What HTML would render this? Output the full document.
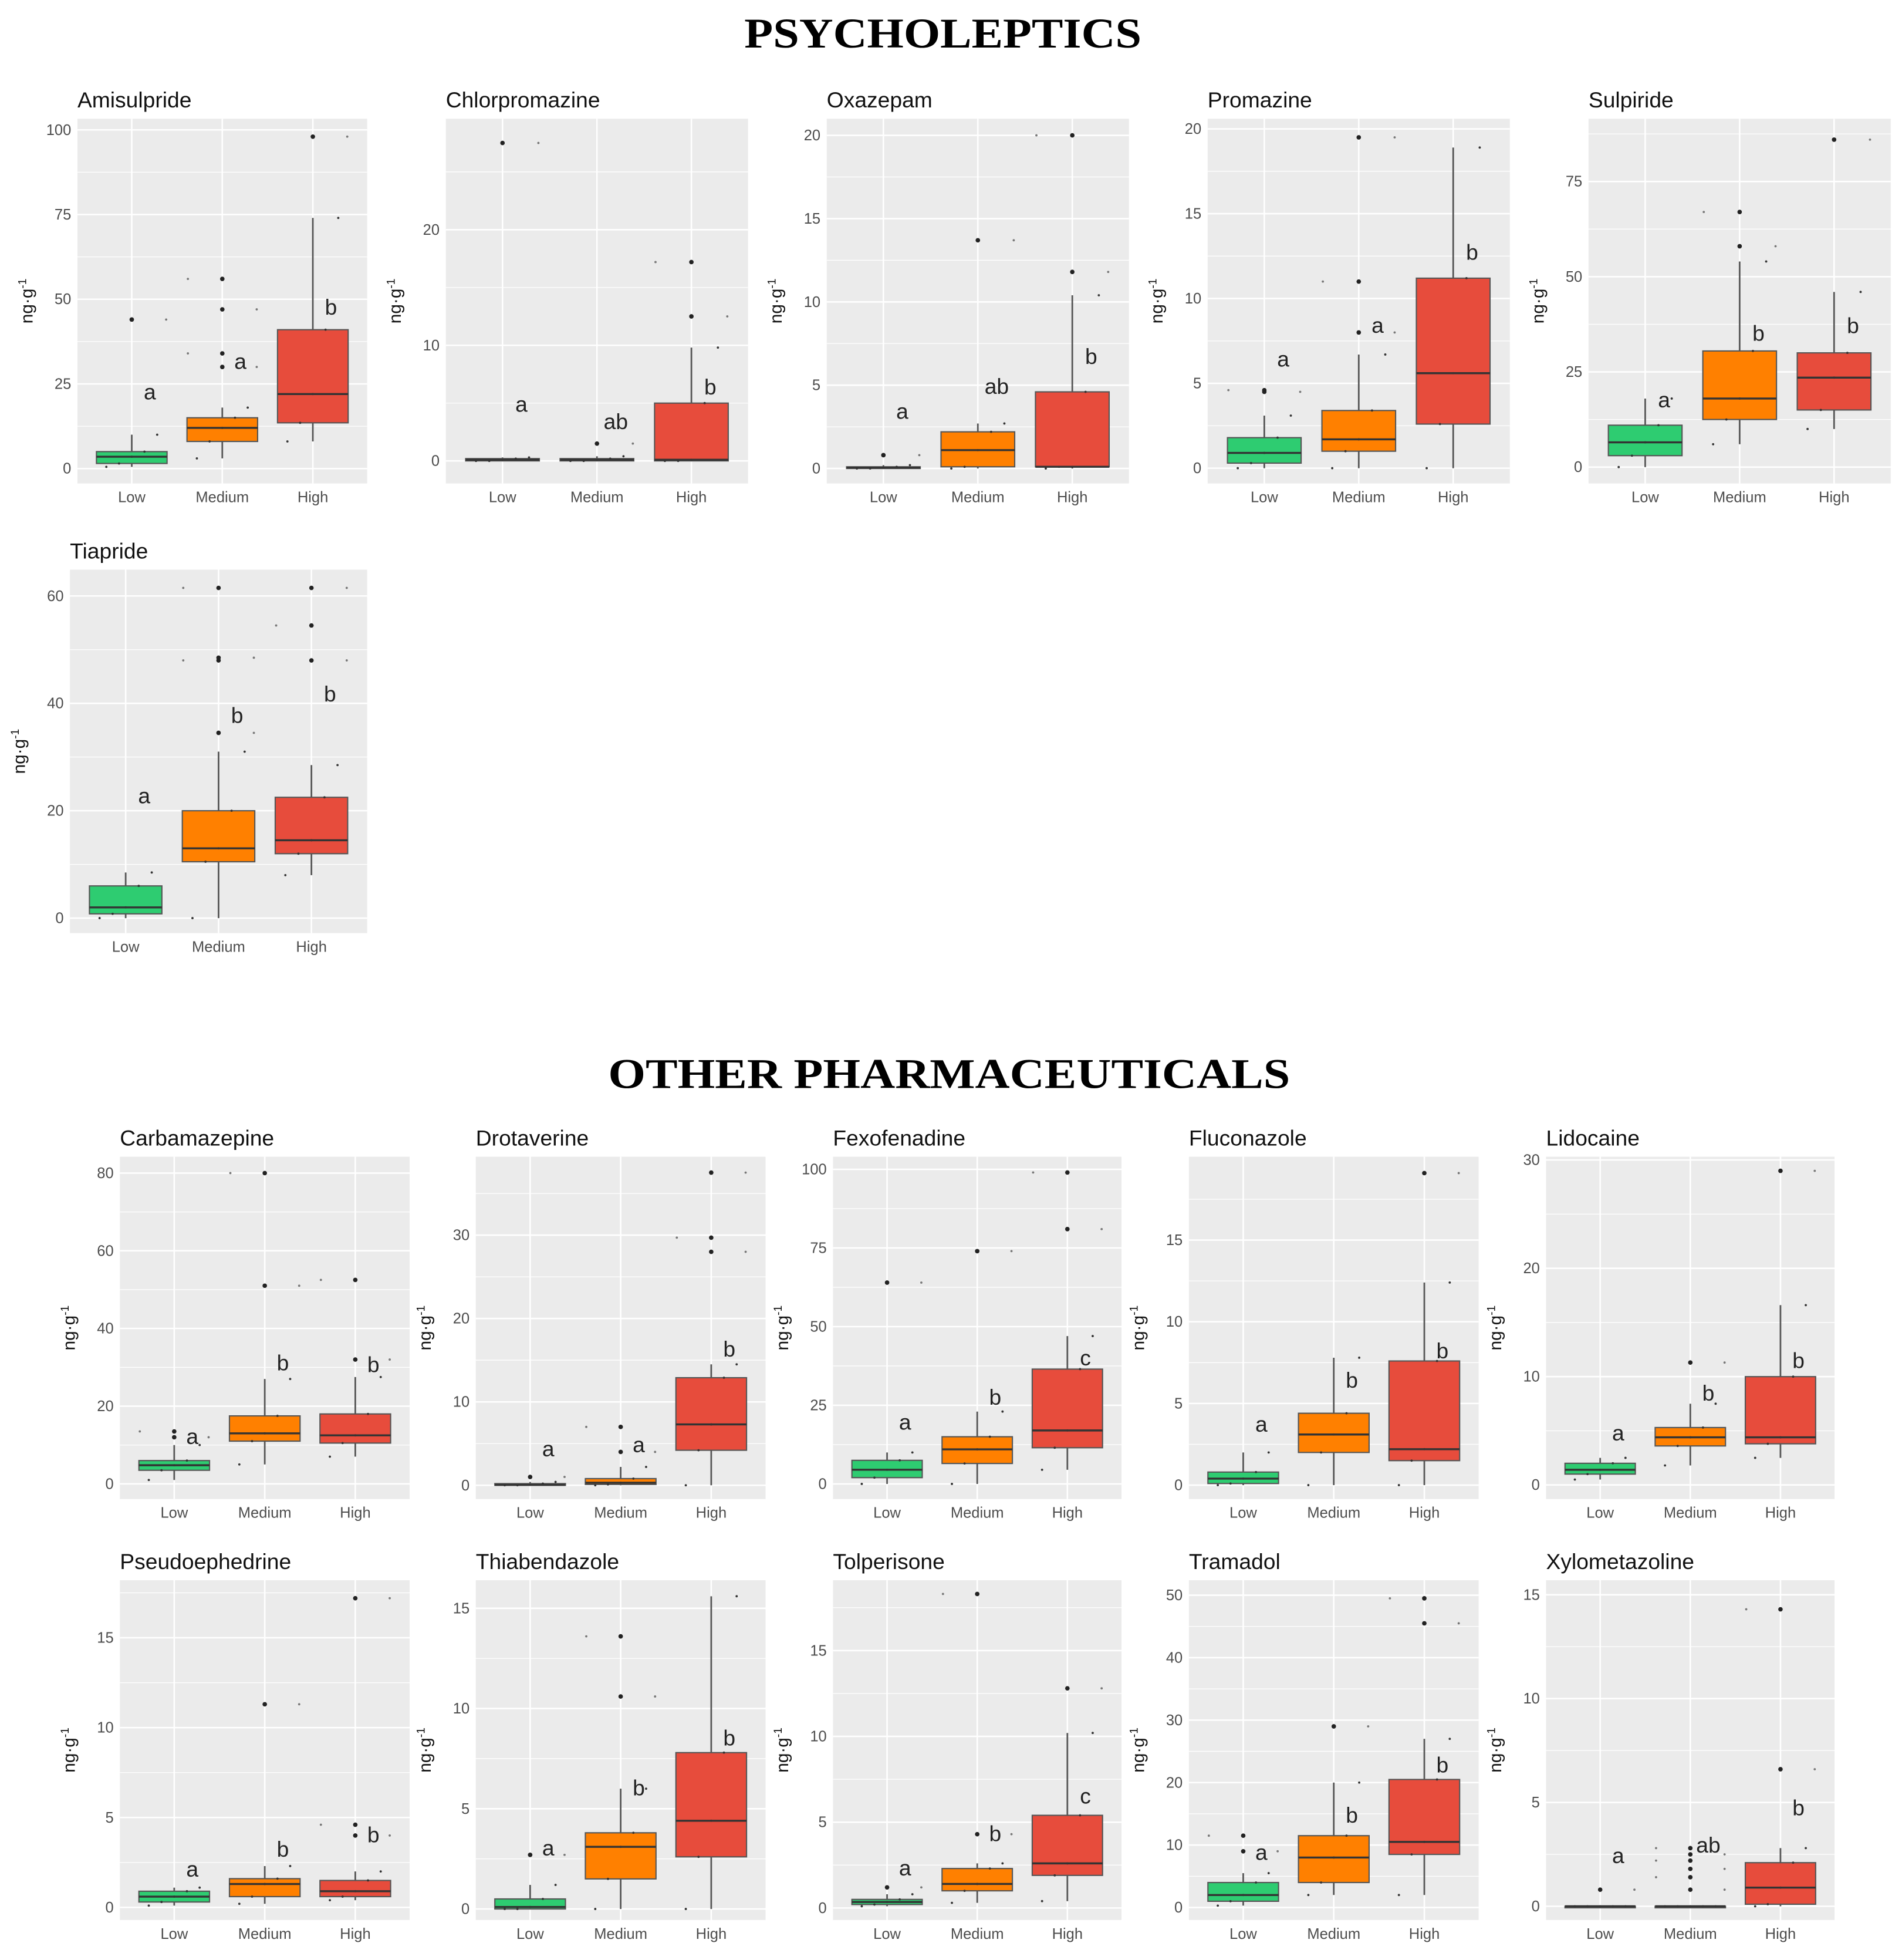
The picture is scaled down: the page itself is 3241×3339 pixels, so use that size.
<!DOCTYPE html>
<html><head><meta charset="utf-8"><style>
html,body{margin:0;padding:0;background:#fff;}
svg{display:block;}
</style></head><body>
<svg id="fig" xmlns="http://www.w3.org/2000/svg" width="3241" height="3339" viewBox="0 0 1523 1569">
<rect x="0" y="0" width="1523" height="1569" fill="#fff"/>
<text x="755" y="38" text-anchor="middle" font-family="Liberation Serif, serif" font-weight="bold" font-size="34" textLength="318" lengthAdjust="spacingAndGlyphs">PSYCHOLEPTICS</text>
<text x="760" y="871" text-anchor="middle" font-family="Liberation Serif, serif" font-weight="bold" font-size="34" textLength="546" lengthAdjust="spacingAndGlyphs">OTHER PHARMACEUTICALS</text>
<g id="panels"></g>
</svg>
<script>
// ---- data ----
const groups = ["Low", "Medium", "High"];
const names = ["Amisulpride","Chlorpromazine","Oxazepam","Promazine","Sulpiride","Tiapride",
  "Carbamazepine","Drotaverine","Fexofenadine","Fluconazole","Lidocaine",
  "Pseudoephedrine","Thiabendazole","Tolperisone","Tramadol","Xylometazoline"];
const yDomains = [[-4.4,103.3],[-1.95,29.6],[-0.9,21],[-0.9,20.6],[-4.3,91.5],[-2.8,64.9],
  [-3.9,84.2],[-1.65,39.4],[-4.8,104],[-0.85,20.1],[-1.3,30.3],
  [-0.7,18.2],[-0.55,16.4],[-0.7,19.1],[-2,52.4],[-0.66,15.7]];
const yTicks = [[0,25,50,75,100],[0,10,20],[0,5,10,15,20],[0,5,10,15,20],[0,25,50,75],[0,20,40,60],
  [0,20,40,60,80],[0,10,20,30],[0,25,50,75,100],[0,5,10,15],[0,10,20,30],
  [0,5,10,15],[0,5,10,15],[0,5,10,15],[0,10,20,30,40,50],[0,5,10,15]];
// box stats per group: [whiskerLow, q1, median, q3, whiskerHigh]
const boxStats = [
  [[0.5,1.5,3.5,5,10],[3,8,12,15,18],[8,13.5,22,41,74]],
  [[0,0,0.1,0.2,0.3],[0,0,0.1,0.2,0.4],[0,0,0.1,5,9.8]],
  [[0,0,0.05,0.1,0.2],[0,0.1,1.1,2.2,2.7],[0,0.1,0.1,4.6,10.4]],
  [[0,0.3,0.9,1.8,3.1],[0,1.0,1.7,3.4,6.7],[0,2.6,5.6,11.2,18.9]],
  [[0,3,6.5,11,18],[6,12.5,18,30.5,54],[10,15,23.5,30,46]],
  [[0,0.8,2,6,8.5],[0,10.5,13,20,31],[8,12,14.5,22.5,28.5]],
  [[1,3.5,4.8,6,10],[5,11,13,17.5,27],[7,10.5,12.5,18,27.5]],
  [[0,0,0.05,0.2,0.4],[0,0.1,0.3,0.8,2.2],[0,4.2,7.3,12.9,14.5]],
  [[0,2,4.5,7.5,10],[0,6.5,11,15,23],[4.5,11.5,17,36.5,47]],
  [[0,0.1,0.4,0.8,2],[0,2,3.1,4.4,7.8],[0,1.5,2.2,7.6,12.4]],
  [[0.5,1,1.4,2,2.5],[1.8,3.6,4.4,5.3,7.5],[2.5,3.8,4.4,10,16.6]],
  [[0.1,0.3,0.6,0.9,1.1],[0.2,0.6,1.3,1.6,2.3],[0.4,0.6,0.9,1.5,2]],
  [[0,0,0.1,0.5,1.2],[0,1.5,3.1,3.8,6],[0,2.6,4.4,7.8,15.6]],
  [[0.1,0.2,0.35,0.5,0.8],[0.3,1.0,1.4,2.3,2.6],[0.4,1.9,2.6,5.4,10.2]],
  [[0.3,1,2,4,5.5],[2,4,8,11.5,20],[2,8.5,10.5,20.5,27]],
  [[0,0,0,0,0],[0,0,0,0,0],[0,0.1,0.9,2.1,2.8]]
];
const outliers = [
  [[44],[30,34,47,56],[98]],
  [[27.5],[1.5],[12.5,17.2]],
  [[0.8],[13.7],[11.8,20]],
  [[4.5,4.6],[8,11,19.5],[]],
  [[],[58,67],[86]],
  [[],[34.5,48,48.5,61.5],[48,54.5,61.5]],
  [[12,13.5],[51,80],[32,52.5]],
  [[1],[4,7],[28,29.7,37.5]],
  [[64],[74],[81,99]],
  [[],[],[19.1]],
  [[],[11.3],[29]],
  [[],[11.3],[4,4.6,17.2]],
  [[2.7],[10.6,13.6],[]],
  [[1.2],[4.3,18.3],[12.8]],
  [[9,11.5],[29],[45.5,49.5]],
  [[0.8],[0.8,1.4,1.8,2.2,2.5,2.8],[6.6,14.3]]
];
const letters = [
  ["a","a","b"],["a","ab","b"],["a","ab","b"],["a","a","b"],["a","b","b"],["a","b","b"],
  ["a","b","b"],["a","a","b"],["a","b","c"],["a","b","b"],["a","b","b"],
  ["a","b","b"],["a","b","b"],["a","b","c"],["a","b","b"],["a","ab","b"]];
const letterValues = [
  [23,32,48],[5,3.5,6.5],[3.5,5,6.8],[6.5,8.5,12.8],[18,35.5,37.5],[23,38,42],
  [12.5,31.5,31],[4.5,5,16.5],[20,28,40.5],[3.8,6.5,8.3],[4.9,8.6,11.6],
  [2.2,3.3,4.1],[3.1,6.1,8.6],[2.4,4.4,6.6],[9,15,23],[2.5,3,4.8]];

// ---- layout (pixels, not data) ----
const layout = [
  [62,95,232,292],[357,95,242,292],[662,95,242,292],[967,95,242,292],[1272,95,242,292],
  [56,456,238,291],
  [96,926,232,274],[381,926,232,274],[667,926,231,274],[952,926,232,274],[1238,926,231,274],
  [96,1265,232,272],[381,1265,232,272],[667,1265,231,272],[952,1265,232,272],[1238,1265,231,272]];
const fills = ["#2ecc71","#ff8000","#e74c3c"];
const NS = "http://www.w3.org/2000/svg";
const root = document.getElementById("panels");
function mk(tag, attrs, parent){ const e=document.createElementNS(NS,tag); for(const k in attrs) e.setAttribute(k,attrs[k]); parent.appendChild(e); return e; }

names.forEach((nm, p) => {
  const [L,T,W,H] = layout[p];
  const [y0,y1] = yDomains[p];
  const sy = v => T + H - (v - y0) / (y1 - y0) * H;
  const sx = g => L + (g + 1 - 0.4) / 3.2 * W;
  const unit = W / 3.2;
  const slug = nm.toLowerCase();
  const g = mk("g", {}, root);
  
  
  const bg = mk("rect", {x:L, y:T, width:W, height:H, fill:"#ebebeb"}, g);
  
  
  const ticks = yTicks[p];
  const step = ticks[1] - ticks[0];
  for (let v = ticks[0] - step/2; v <= y1; v += step) {
    if (v < y0) continue;
    const gl = mk("line", {x1:L, x2:L+W, y1:sy(v), y2:sy(v), stroke:"#fff", "stroke-width":0.6}, g);
    
    
  }
  ticks.forEach(v => {
    const gl = mk("line", {x1:L, x2:L+W, y1:sy(v), y2:sy(v), stroke:"#fff", "stroke-width":1.2}, g);
    
    
    const tl = mk("text", {x:L-5, y:sy(v)+4, "text-anchor":"end", "font-family":"Liberation Sans, sans-serif", "font-size":12, fill:"#4d4d4d"}, g);
    tl.textContent = v;
    
    
  });
  groups.forEach((gr, i) => {
    const gl = mk("line", {x1:sx(i), x2:sx(i), y1:T, y2:T+H, stroke:"#fff", "stroke-width":1.2}, g);
    
    
    const xl = mk("text", {x:sx(i), y:T+H+15, "text-anchor":"middle", "font-family":"Liberation Sans, sans-serif", "font-size":12, fill:"#4d4d4d"}, g);
    xl.textContent = gr;
    
    
    const [wl,q1,md,q3,wh] = boxStats[p][i];
    const cx = sx(i), bw = unit*0.78;
    const wk = mk("line", {x1:cx, x2:cx, y1:sy(wl), y2:sy(wh), stroke:"#555", "stroke-width":1.3}, g);
    
    
    const bx = mk("rect", {x:cx-bw/2, y:sy(q3), width:bw, height:Math.max(1.2, sy(q1)-sy(q3)), fill:fills[i], stroke:"#555", "stroke-width":1}, g);
    
    
    const ml = mk("line", {x1:cx-bw/2, x2:cx+bw/2, y1:sy(md), y2:sy(md), stroke:"#333", "stroke-width":1.6}, g);
    
    
    [wl,q1,md,q3,wh].forEach((v,k) => {
      const jp = mk("circle", {cx:cx + (k-2)*bw*0.18, cy:sy(v), r:0.9, fill:"#333"}, g);
      
      
    });
    outliers[p][i].forEach((v,k) => {
      const op = mk("circle", {cx:cx, cy:sy(v), r:1.8, fill:"#222"}, g);
      
      
      const jp = mk("circle", {cx:cx + ((k%2)?-1:1)*unit*0.38, cy:sy(v), r:0.9, fill:"#777"}, g);
      
      
    });
    const lt = mk("text", {x:cx + unit*0.2, y:sy(letterValues[p][i]) + 7, "text-anchor":"middle", "font-family":"Liberation Sans, sans-serif", "font-size":17.5, fill:"#222"}, g);
    lt.textContent = letters[p][i];
    
    
  });
  const tt = mk("text", {x:L, y:T-9, "font-family":"Liberation Sans, sans-serif", "font-size":17.5, fill:"#111"}, g);
  tt.textContent = nm;
  
  
  const yl = mk("text", {transform:"translate(" + (L-36) + "," + (T+H/2) + ") rotate(-90)", "text-anchor":"middle", "font-family":"Liberation Sans, sans-serif", "font-size":14, fill:"#111"}, g);
  
  
  const t1 = mk("tspan", {}, yl); t1.textContent = "ng·g";
  const t2 = mk("tspan", {dy:-5, "font-size":9}, yl); t2.textContent = "-1";
});
</script>
</body></html>
